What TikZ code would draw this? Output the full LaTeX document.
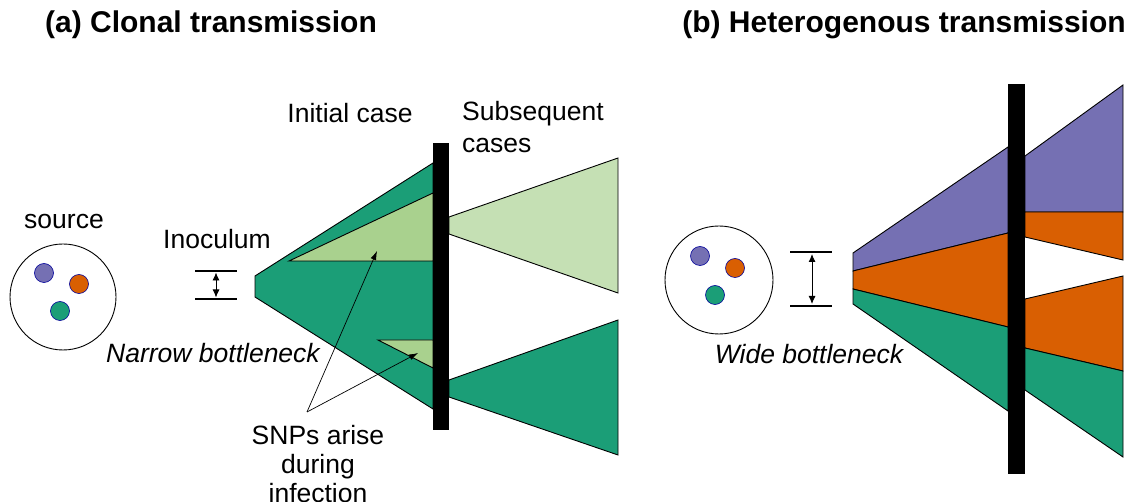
\documentclass[tikz,border=0pt]{standalone}
\usepackage{fontspec}
\setmainfont{Liberation Sans}
\usetikzlibrary{arrows.meta}

\definecolor{teal}{HTML}{1B9E77}
\definecolor{orng}{HTML}{D95F02}
\definecolor{purp}{HTML}{7570B3}
\definecolor{lgreen}{HTML}{A9D18E}
\definecolor{llgreen}{HTML}{C5E0B4}

\begin{document}
\begin{tikzpicture}[x=1pt, y=-1pt,
  lbl/.style={font=\fontsize{26.5}{30}\selectfont, inner sep=0pt},
  ttl/.style={font=\fontsize{30}{34}\selectfont\bfseries, inner sep=0pt},
  blob/.style={draw=black, line width=0.9pt},
  dot/.style={circle, draw=blue!60!black, line width=0.6pt, minimum size=19pt, inner sep=0pt},
  barrier/.style={fill=black},
  gap/.style={line width=2.8pt},
  span/.style={{Latex[length=8pt,width=7pt]}-{Latex[length=8pt,width=7pt]}, line width=0.9pt},
  pointer/.style={-{Latex[length=9pt,width=6pt]}, line width=0.7pt}]
  \useasboundingbox (0,0) rectangle (1130,502);

  % (a) clonal
  \node[ttl] (ta) at (211,25) {(a) Clonal transmission};
  \node[lbl] (src) at (64,222) {source};
  \node[draw, circle, line width=0.9pt, minimum size=106pt] (pool) at (63,297) {};
  \node[dot, fill=purp] (p1) at (44,273) {};
  \node[dot, fill=orng] (o1) at (79,284) {};
  \node[dot, fill=teal] (g1) at (60,311) {};

  \node[lbl] (inoc) at (217,239) {Inoculum};
  \draw[gap] (195,271) -- (237,271) coordinate (ntop);
  \draw[gap] (195,299) -- (237,299) coordinate (nbot);
  \coordinate (na) at (216,272.5);
  \coordinate (nb) at (216,297.5);
  \draw[span] (na) -- (nb);
  \node[lbl, font=\fontsize{26.5}{30}\selectfont\itshape] (narrow) at (213,353) {Narrow bottleneck};

  \node[lbl] (init) at (350,113) {Initial case};
  \draw[blob, fill=teal] (255,276) -- (433,163) -- (433,409) -- (255,297) -- cycle;
  \draw[blob, fill=lgreen] (289,261) -- (433,193) -- (433,261) -- cycle;
  \draw[blob, fill=lgreen] (378,340) -- (433,340) -- (433,368) -- cycle;
  \fill[barrier] (433,143) rectangle (449,430);

  \node[lbl, align=left, anchor=north west, font=\fontsize{26.5}{32}\selectfont] (subs) at (462,101) {Subsequent\\cases};
  \draw[blob, fill=llgreen] (449,217) -- (618,158) -- (618,293) -- (449,234) -- cycle;
  \draw[blob, fill=teal] (449,380) -- (618,320) -- (618,455) -- (449,397) -- cycle;

  \node[lbl, align=center, anchor=north, font=\fontsize{26.5}{29}\selectfont] (snp) at (318,425) {SNPs arise\\during\\infection};
  \coordinate (fork) at (307,412);
  \coordinate (snpa) at (377,251);
  \coordinate (snpb) at (418,353);
  \draw[pointer] (fork) -- (snpa);
  \draw[pointer] (fork) -- (snpb);

  % (b) heterogenous
  \node[ttl] (tb) at (904,25) {(b) Heterogenous transmission};
  \node[draw, circle, line width=0.9pt, minimum size=108pt] (pool2) at (719,280) {};
  \node[dot, fill=purp] (p2) at (700,256) {};
  \node[dot, fill=orng] (o2) at (735,268) {};
  \node[dot, fill=teal] (g2) at (715,295) {};

  \draw[gap] (790,252) -- (832,252) coordinate (wtop);
  \draw[gap] (790,306) -- (832,306) coordinate (wbot);
  \coordinate (wa) at (812,254);
  \coordinate (wb) at (812,304);
  \draw[span] (wa) -- (wb);
  \node[lbl, font=\fontsize{26.5}{30}\selectfont\itshape] (wide) at (809,354) {Wide bottleneck};

  \draw[blob, fill=purp] (853,253) -- (1008,147) -- (1008,233) -- (853,271) -- cycle;
  \draw[blob, fill=orng] (853,271) -- (1008,233) -- (1008,327) -- (853,289) -- cycle;
  \draw[blob, fill=teal] (853,289) -- (1008,327) -- (1008,411) -- (853,304) -- cycle;
  \fill[barrier] (1008,84) rectangle (1025,474);

  \draw[blob, fill=purp] (1025,156) -- (1123,85) -- (1123,212) -- (1025,212) -- cycle;
  \draw[blob, fill=orng] (1025,212) -- (1123,212) -- (1123,260) -- (1025,237) -- cycle;
  \draw[blob, fill=orng] (1025,299) -- (1123,276) -- (1123,371) -- (1025,348) -- cycle;
  \draw[blob, fill=teal] (1025,348) -- (1123,371) -- (1123,457) -- (1025,390) -- cycle;
\end{tikzpicture}
\end{document}
